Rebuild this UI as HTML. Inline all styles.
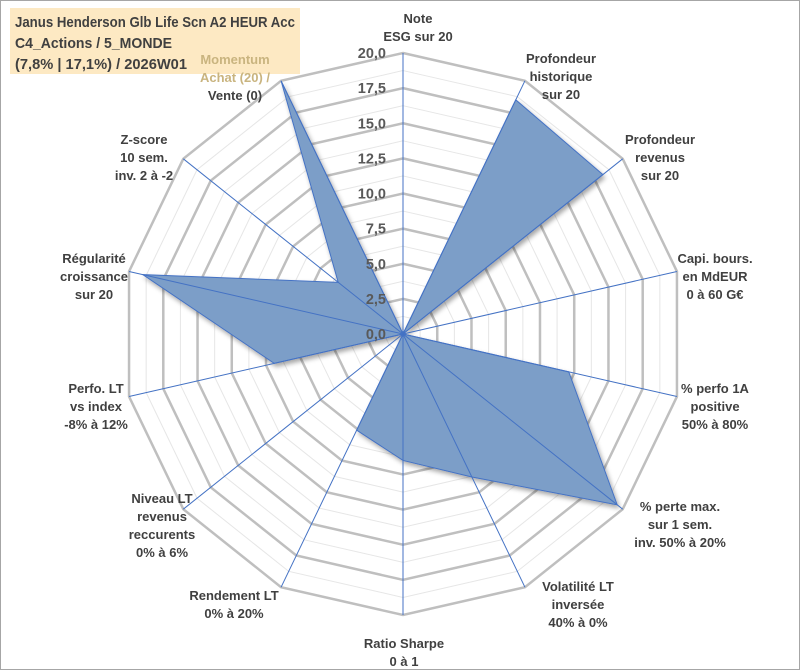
<!DOCTYPE html>
<html><head><meta charset="utf-8">
<style>
body{margin:0;background:#fff;font-family:"Liberation Sans",sans-serif;}
#wrap{position:relative;width:801px;height:671px;overflow:hidden;}
</style></head>
<body>
<div id="wrap">
<svg id="chart" width="801" height="671" viewBox="0 0 801 671">
<rect x="0.5" y="0.5" width="799" height="669" fill="#fff" stroke="#a6a6a6"/>
<defs><filter id="sh" x="-10%" y="-10%" width="120%" height="120%"><feDropShadow dx="2" dy="3" stdDeviation="2.5" flood-color="#000" flood-opacity="0.35"/></filter></defs>
<rect x="10" y="8" width="290" height="66" fill="#fde9c3"/>
<g font-family="Liberation Sans Narrow, Liberation Sans, sans-serif" font-size="15" font-weight="bold" fill="#404040">
<text x="15" y="27" textLength="280" lengthAdjust="spacingAndGlyphs">Janus Henderson Glb Life Scn A2 HEUR Acc</text>
<text x="15" y="48" textLength="157" lengthAdjust="spacingAndGlyphs">C4_Actions / 5_MONDE</text>
<text x="15" y="69" textLength="172" lengthAdjust="spacingAndGlyphs">(7,8% | 17,1%) / 2026W01</text>
</g>
<g id="grid"></g><g id="series"></g><g id="spokes"></g><g id="ticks"></g><g id="labels"></g>
</svg>
</div>
<script>
const categories=[["Note","ESG sur 20"],["Profondeur","historique","sur 20"],["Profondeur","revenus","sur 20"],["Capi. bours.","en MdEUR","0 à 60 G€"],["% perfo 1A","positive","50% à 80%"],["% perte max.","sur 1 sem.","inv. 50% à 20%"],["Volatilité LT","inversée","40% à 0%"],["Ratio Sharpe","0 à 1"],["Rendement LT","0% à 20%"],["Niveau LT","revenus","reccurents","0% à 6%"],["Perfo. LT","vs index","-8% à 12%"],["Régularité","croissance","sur 20"],["Z-score","10 sem.","inv. 2 à -2"],["Momentum","Achat (20) /","Vente (0)"]];
const values=[0,18.5,18.2,0,12.1,19.5,11.3,9.0,7.6,0,9.4,19.0,5.9,20];
const tickLabels=["0,0","2,5","5,0","7,5","10,0","12,5","15,0","17,5","20,0"];
const labelPos=[[418,12],[561,52],[660,133],[715,252],[715,382],[680,500],[578,580],[404,637],[234,589],[162,492],[96,382],[94,252],[144,133],[235,53]];
const NS="http://www.w3.org/2000/svg",cx=403,cy=334,R=281,maxV=20,N=categories.length;
function ang(i){return 2*Math.PI*i/N;}
function pt(i,v){const r=v/maxV*R;return [cx+r*Math.sin(ang(i)),cy-r*Math.cos(ang(i))];}
function mk(tag,attrs,parent){const e=document.createElementNS(NS,tag);for(const k in attrs)e.setAttribute(k,attrs[k]);parent.appendChild(e);return e;}
const grid=document.getElementById('grid');
for(let k=1;k<=16;k++){const v=k*1.25;const pts=[];for(let i=0;i<N;i++)pts.push(pt(i,v).join(','));
 const p=mk('polygon',{points:pts.join(' '),fill:'none',stroke:k%2?'#e6e6e6':'#bfbfbf','stroke-width':k%2?1:2.5},grid);
 
 }
const series=document.getElementById('series');
const sp=values.map((v,i)=>pt(i,v).join(',')).join(' ');
const poly=mk('polygon',{points:sp,fill:'#7c9ec8',stroke:'#4472c4','stroke-width':1,filter:'url(#sh)'},series);


const spokes=document.getElementById('spokes');
for(let i=0;i<N;i++){const e=pt(i,maxV);const l=mk('line',{x1:cx,y1:cy,x2:e[0],y2:e[1],stroke:'#4472c4','stroke-width':1},spokes);
 
 }
const ticks=document.getElementById('ticks');
tickLabels.forEach((t,k)=>{const y=cy-(k*2.5)/maxV*R;const tx=mk('text',{x:386,y:y+5,'text-anchor':'end','font-size':14.5,'font-weight':'bold',fill:'#595959'},ticks);tx.textContent=t;
 
 });
const labels=document.getElementById('labels');
categories.forEach((c,i)=>{const g=mk('g',{},labels);
 
 
 c.forEach((line,j)=>{const col=(i===13&&j<2)?'#c9b47f':'#404040';const t=mk('text',{x:labelPos[i][0],y:labelPos[i][1]+j*18+11,'text-anchor':'middle','font-size':13,'font-weight':'bold',fill:col},g);t.textContent=line;});});
</script>
</body></html>
